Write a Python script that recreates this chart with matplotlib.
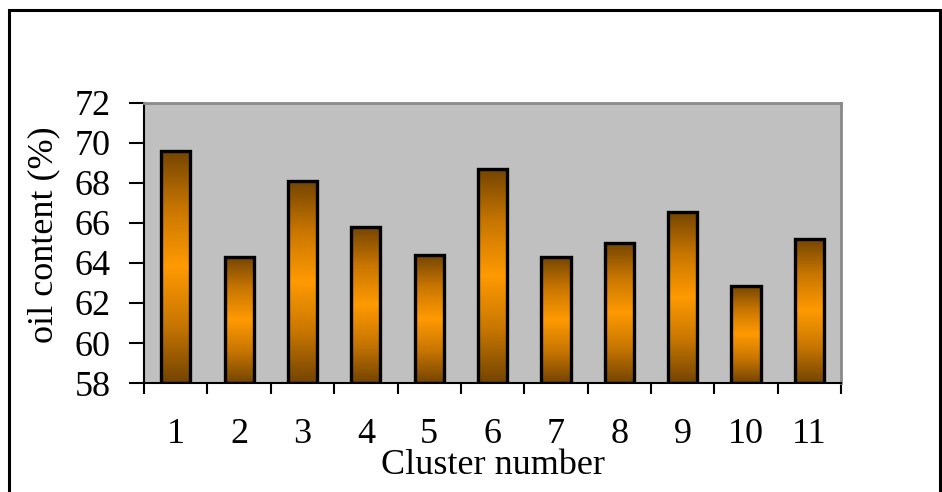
import numpy as np
import matplotlib.pyplot as plt
from matplotlib.colors import LinearSegmentedColormap
from matplotlib.patches import Rectangle

clusters = ['1', '2', '3', '4', '5', '6', '7', '8', '9', '10', '11']
oil_content = [69.6, 64.3, 68.1, 65.8, 64.4, 68.7, 64.3, 65.0, 66.55, 62.85, 65.2]
y_ticks = [58, 60, 62, 64, 66, 68, 70, 72]

plt.rcParams['font.family'] = ['Liberation Serif', 'DejaVu Serif']
FS = 26

# dark brown at both ends, orange in the middle of each bar
bar_cmap = LinearSegmentedColormap.from_list(
    'bronze', ['#734400', '#c87600', '#ff9a00', '#c87600', '#734400'])

fig = plt.figure(figsize=(9.42, 4.92), dpi=100)
ax = fig.add_axes([0.1529, 0.2215, 0.74, 0.5693])
ax.set_facecolor('#c0c0c0')

x = np.arange(len(clusters))
bars = ax.bar(x, np.array(oil_content) - y_ticks[0], bottom=y_ticks[0],
              width=0.46, facecolor='none', edgecolor='black',
              linewidth=2.4, zorder=3)

grad = np.linspace(0, 1, 256).reshape(-1, 1)
for b in bars:
    x0, y0 = b.get_x(), b.get_y()
    ax.imshow(grad, cmap=bar_cmap, aspect='auto', zorder=2,
              extent=[x0, x0 + b.get_width(), y0, y0 + b.get_height()],
              interpolation='bilinear')

ax.set_xlim(-0.5, len(clusters) - 0.5)
ax.set_ylim(y_ticks[0], y_ticks[-1])

ax.set_yticks(y_ticks)
ax.tick_params(axis='y', direction='out', length=11, width=1.5,
               labelsize=FS, pad=13)
ax.set_xticks(x)
ax.set_xticklabels(clusters)
ax.tick_params(axis='x', which='major', length=0, labelsize=FS, pad=25)
ax.set_xticks(np.arange(-0.5, len(clusters)), minor=True)
ax.tick_params(axis='x', which='minor', direction='out', length=8, width=1.5)

for side in ('left', 'bottom'):
    ax.spines[side].set_color('black')
    ax.spines[side].set_linewidth(1.5)
for side in ('top', 'right'):
    ax.spines[side].set_color('#8a8a8a')
    ax.spines[side].set_linewidth(2)

ax.set_ylabel('oil content (%)', fontsize=FS, labelpad=10)
ax.yaxis.label.set_y(0.53)
ax.set_xlabel('Cluster number', fontsize=FS, labelpad=-1)

# outer chart frame
fig.add_artist(Rectangle((8.5 / 942, -0.05), 931 / 942, 1.05 - 9.5 / 492,
                         transform=fig.transFigure, fill=False,
                         edgecolor='black', linewidth=2.2))

fig.savefig('out.png', dpi=100)
